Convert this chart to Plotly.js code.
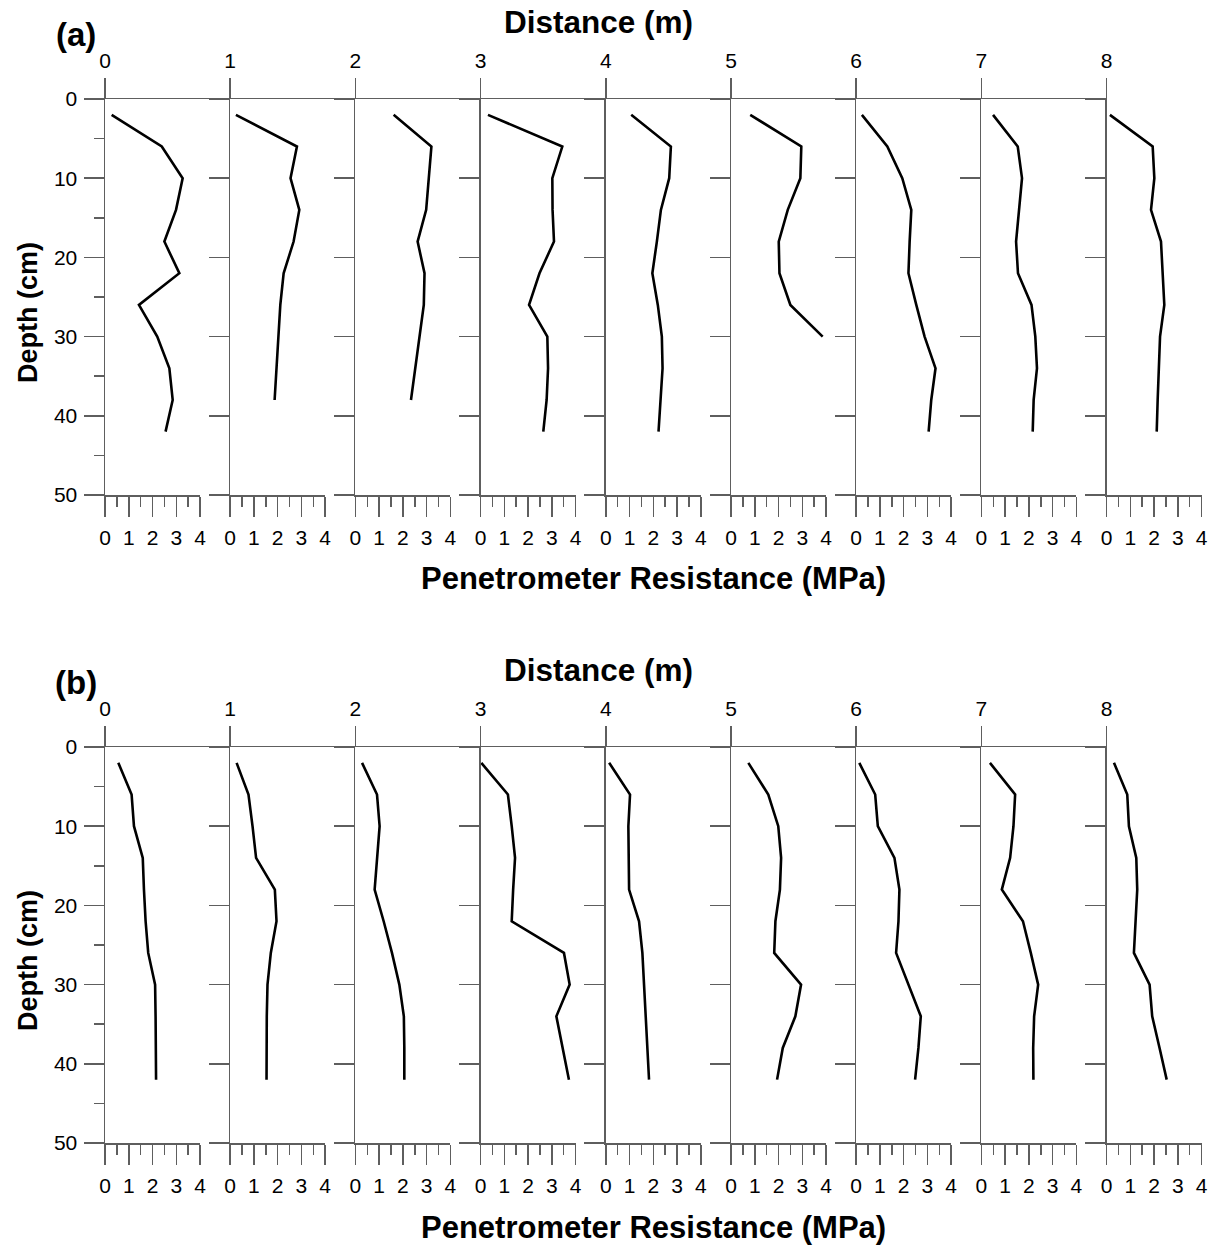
<!DOCTYPE html>
<html>
<head>
<meta charset="utf-8">
<script src="https://cdn.plot.ly/plotly-3.0.1.min.js"></script>
<style>html,body{margin:0;padding:0;background:#fff;}#chart{width:1218px;height:1245px;}</style>
</head>
<body>
<div id="chart"></div>
<script>
// ---- data ----
const depths = [2, 6, 10, 14, 18, 22, 26, 30, 34, 38, 42];   // cm
const distances = [0, 1, 2, 3, 4, 5, 6, 7, 8];                  // m
const resistanceTicks = [0, 1, 2, 3, 4];                          // MPa
const depthTicks = [0, 10, 20, 30, 40, 50];                       // cm

// Panel (a): penetrometer resistance (MPa) at each distance
const a_0m = [0.28, 2.39, 3.27, 2.99, 2.50, 3.13, 1.43, 2.20, 2.71, 2.85, 2.55];
const a_1m = [0.24, 2.81, 2.54, 2.91, 2.67, 2.25, 2.11, 2.04, 1.96, 1.87];
const a_2m = [1.61, 3.20, 3.09, 2.98, 2.62, 2.91, 2.88, 2.71, 2.53, 2.34];
const a_3m = [0.31, 3.44, 3.02, 3.03, 3.09, 2.48, 2.04, 2.81, 2.84, 2.78, 2.64];
const a_4m = [1.07, 2.74, 2.67, 2.32, 2.15, 1.96, 2.19, 2.36, 2.39, 2.30, 2.22];
const a_5m = [0.81, 2.96, 2.92, 2.39, 2.01, 2.04, 2.50, 3.86];
const a_6m = [0.24, 1.31, 1.94, 2.32, 2.25, 2.20, 2.53, 2.88, 3.34, 3.16, 3.05];
const a_7m = [0.49, 1.53, 1.71, 1.57, 1.46, 1.54, 2.11, 2.27, 2.34, 2.20, 2.16];
const a_8m = [0.14, 1.94, 2.01, 1.87, 2.29, 2.36, 2.43, 2.25, 2.19, 2.15, 2.11];

// Panel (b)
const b_0m = [0.56, 1.12, 1.22, 1.59, 1.64, 1.71, 1.82, 2.11, 2.13, 2.15, 2.15];
const b_1m = [0.27, 0.77, 0.94, 1.09, 1.88, 1.95, 1.71, 1.57, 1.54, 1.53, 1.53];
const b_2m = [0.28, 0.91, 1.02, 0.91, 0.81, 1.19, 1.54, 1.85, 2.04, 2.06, 2.06];
const b_3m = [0.03, 1.15, 1.31, 1.45, 1.37, 1.31, 3.51, 3.75, 3.19, 3.44, 3.72];
const b_4m = [0.14, 1.02, 0.95, 0.95, 0.98, 1.40, 1.54, 1.61, 1.68, 1.75, 1.82];
const b_5m = [0.73, 1.57, 1.99, 2.11, 2.06, 1.87, 1.82, 2.95, 2.71, 2.18, 1.94];
const b_6m = [0.13, 0.80, 0.91, 1.61, 1.82, 1.78, 1.68, 2.20, 2.72, 2.62, 2.48];
const b_7m = [0.36, 1.42, 1.35, 1.21, 0.86, 1.75, 2.08, 2.39, 2.22, 2.18, 2.19];
const b_8m = [0.31, 0.87, 0.94, 1.25, 1.29, 1.22, 1.15, 1.81, 1.92, 2.23, 2.53];

const panelLabels = ['(a)', '(b)'];
const topTitle = 'Distance (m)';
const bottomTitle = 'Penetrometer Resistance (MPa)';
const sideTitle = 'Depth (cm)';

// ---- layout geometry (pixels) ----
const W = 1218, H = 1245;
const X0 = 105, STEP = 125.2, PW = 95;
const panelGeom = [
  {top: 99, bottom: 495, series: [a_0m, a_1m, a_2m, a_3m, a_4m, a_5m, a_6m, a_7m, a_8m]},
  {top: 747, bottom: 1143, series: [b_0m, b_1m, b_2m, b_3m, b_4m, b_5m, b_6m, b_7m, b_8m]}
];
const AX = '#5e5e5e';
const fx = px => px / W;
const fy = py => 1 - py / H;

const traces = [];
const layout = {
  width: W, height: H,
  margin: {l: 0, r: 0, t: 0, b: 0},
  showlegend: false,
  paper_bgcolor: '#ffffff',
  plot_bgcolor: 'rgba(0,0,0,0)',
  font: {family: 'Liberation Sans, Arial, sans-serif', color: '#000', size: 20},
  annotations: []
};

let k = 0;
panelGeom.forEach((pg, p) => {
  const ydom = [fy(pg.bottom), fy(pg.top)];
  let firstY = null;
  distances.forEach((d, i) => {
    k += 1;
    const xs = 'x' + k, ys = 'y' + k;
    if (i === 0) firstY = ys;
    const left = X0 + i * STEP;
    const vals = pg.series[i];
    traces.push({
      type: 'scatter', mode: 'lines',
      x: vals, y: depths.slice(0, vals.length),
      xaxis: xs, yaxis: ys,
      line: {color: '#000', width: 2.6},
      hoverinfo: 'skip'
    });
    layout['xaxis' + k] = {
      domain: [fx(left), fx(left + PW)],
      range: [0, 4], anchor: ys, side: 'bottom',
      showline: true, linecolor: AX, linewidth: 1.5,
      ticks: 'outside', ticklen: 20, tickwidth: 1.5, tickcolor: AX,
      tickvals: resistanceTicks, ticktext: resistanceTicks.map(String),
      minor: {ticks: 'outside', ticklen: 10, tickwidth: 1.5, tickcolor: AX, dtick: 0.5, showgrid: false},
      tickfont: {size: 21, color: '#000'}, ticklabelstandoff: 3,
      showgrid: false, zeroline: false, fixedrange: true
    };
    const yax = {
      domain: ydom, range: [50, 0], anchor: xs,
      showline: true, linecolor: AX, linewidth: 1.5,
      ticks: 'outside', ticklen: 20, tickwidth: 1.5, tickcolor: AX,
      tickvals: depthTicks, ticktext: depthTicks.map(String),
      showticklabels: i === 0,
      tickfont: {size: 21, color: '#000'}, ticklabelstandoff: 2,
      showgrid: false, zeroline: false, fixedrange: true
    };
    if (i === 0) {
      yax.minor = {ticks: 'outside', ticklen: 10, tickwidth: 1.5, tickcolor: AX, dtick: 5, showgrid: false};
    }
    layout['yaxis' + k] = yax;
  });
  // top distance axis
  const tk = 18 + p + 1;
  layout['xaxis' + tk] = {
    domain: [fx(X0), fx(X0 + 8 * STEP)],
    range: [0, 8], anchor: firstY, side: 'top',
    showline: true, linecolor: AX, linewidth: 1.5,
    ticks: 'outside', ticklen: 20, tickwidth: 1.5, tickcolor: AX,
    tickvals: distances, ticktext: distances.map(String),
    tickfont: {size: 21, color: '#000'}, ticklabelstandoff: 1,
    showgrid: false, zeroline: false, fixedrange: true
  };
  traces.push({type: 'scatter', mode: 'lines', x: [], y: [], xaxis: 'x' + tk, yaxis: firstY, hoverinfo: 'skip'});

  const off = pg.top - 99;
  layout.annotations.push(
    {text: '<b>' + panelLabels[p] + '</b>', xref: 'paper', yref: 'paper', x: fx(76), y: fy(34 + off),
     xanchor: 'center', yanchor: 'middle', showarrow: false, font: {size: 33, color: '#000'}},
    {text: '<b>' + topTitle + '</b>', xref: 'paper', yref: 'paper', x: fx(598), y: fy(22 + off),
     xanchor: 'center', yanchor: 'middle', showarrow: false, font: {size: 31.5, color: '#000'}},
    {text: '<b>' + bottomTitle + '</b>', xref: 'paper', yref: 'paper', x: fx(653), y: fy(579 + off),
     xanchor: 'center', yanchor: 'middle', showarrow: false, font: {size: 31, color: '#000'}},
    {text: '<b>' + sideTitle + '</b>', xref: 'paper', yref: 'paper', x: fx(28), y: fy(313 + off),
     xanchor: 'center', yanchor: 'middle', showarrow: false, textangle: -90, font: {size: 27, color: '#000'}}
  );
});

Plotly.newPlot('chart', traces, layout, {displayModeBar: false, staticPlot: true});
</script>
</body>
</html>
